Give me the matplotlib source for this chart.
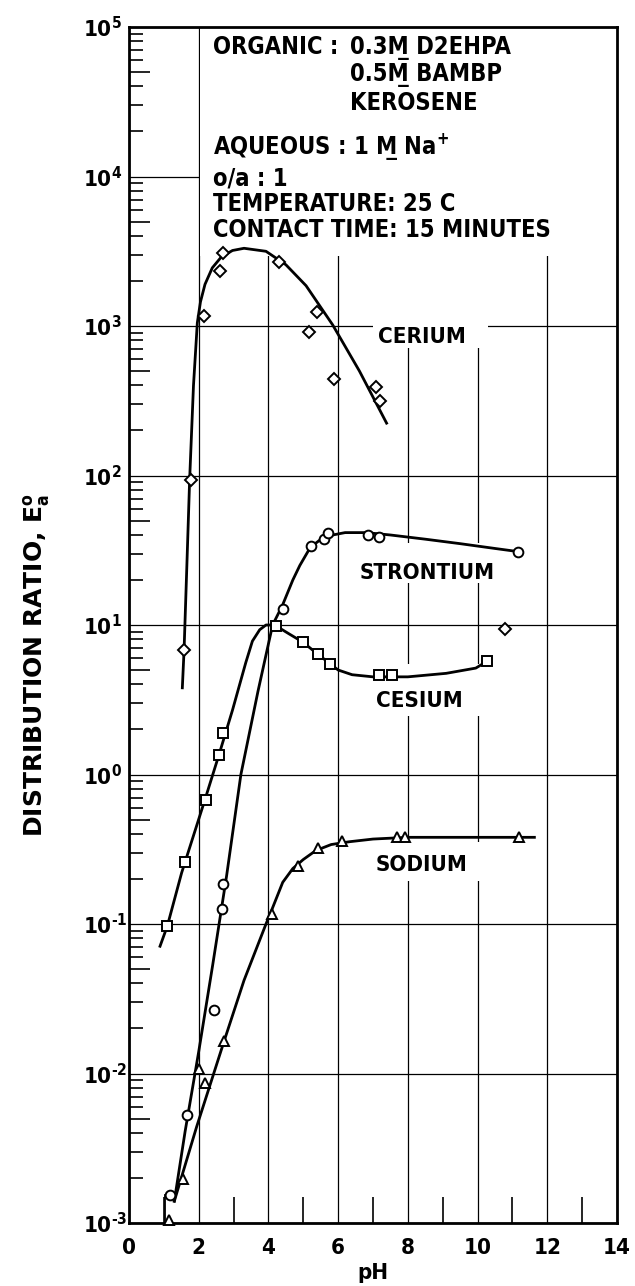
import matplotlib
matplotlib.use("Agg")
import matplotlib.pyplot as plt
from matplotlib.patches import Rectangle
from matplotlib.ticker import NullLocator, FixedLocator
import numpy as np

plt.rcParams['font.family'] = ['DejaVu Sans']
plt.rcParams['font.weight'] = 'bold'
plt.rcParams['font.stretch'] = 'condensed'
plt.rcParams['mathtext.fontset'] = 'custom'
plt.rcParams['mathtext.rm'] = 'DejaVu Sans:bold'
plt.rcParams['mathtext.it'] = 'DejaVu Sans:bold'
plt.rcParams['mathtext.bf'] = 'DejaVu Sans:bold'
plt.rcParams['mathtext.default'] = 'rm'

# ---------------- data ----------------
# cerium (diamonds)
ce_ph = [1.58, 1.77, 2.14, 2.60, 2.69, 4.31, 5.17, 5.40, 5.89, 7.10, 7.21, 10.79]
ce_d = [6.8, 94, 1160, 2340, 3100, 2680, 910, 1240, 445, 390, 316, 9.4]
ce_curve_ph = [1.53, 1.58, 1.66, 1.74, 1.85, 1.96, 2.05, 2.18, 2.39, 2.65, 2.97,
               3.30, 3.93, 4.50, 5.08, 5.84, 6.61, 7.39]
ce_curve_d = [3.8, 6.8, 25, 94, 400, 1050, 1450, 1900, 2450, 2900, 3200,
              3310, 3160, 2570, 1860, 1020, 500, 224]

# strontium (circles)
sr_ph = [1.18, 1.67, 2.44, 2.66, 2.71, 4.41, 5.21, 5.59, 5.72, 6.86, 7.18, 11.15]
sr_d = [0.00155, 0.0053, 0.0267, 0.126, 0.185, 12.7, 34, 37.4, 41.5, 40, 39, 31]
sr_curve_ph = [1.30, 1.61, 2.00, 2.40, 2.80, 3.21, 3.70, 4.12, 4.40, 4.70, 4.90,
               5.20, 5.60, 6.20, 6.80, 7.50, 8.50, 9.50, 10.50, 11.15]
sr_curve_d = [0.0014, 0.0041, 0.014, 0.053, 0.21, 1.0, 3.6, 10, 13.5, 20, 25,
              33, 39, 41.5, 41.5, 40, 37.5, 35, 32.5, 31]
sr_tail_ph = [1.02, 1.02]
sr_tail_d = [0.001, 0.00155]

# cesium (squares)
cs_ph = [1.10, 1.62, 2.21, 2.59, 2.71, 4.21, 4.98, 5.41, 5.77, 7.18, 7.54, 10.26]
cs_d = [0.097, 0.26, 0.68, 1.36, 1.9, 9.85, 7.7, 6.4, 5.5, 4.6, 4.6, 5.7]
cs_curve_ph = [0.89, 1.10, 1.51, 2.18, 2.60, 2.97, 3.35, 3.54, 3.75, 3.93, 4.10,
               4.30, 4.60, 4.98, 5.41, 5.77, 6.00, 6.40, 7.00, 7.50, 8.00, 9.10,
               9.95, 10.26]
cs_curve_d = [0.071, 0.097, 0.22, 0.68, 1.4, 2.7, 5.6, 7.8, 9.3, 10.0, 10.0,
              9.6, 8.7, 7.7, 6.4, 5.5, 5.0, 4.65, 4.5, 4.5, 4.5, 4.75,
              5.15, 5.7]

# sodium (triangles)
na_ph = [1.14, 1.56, 2.02, 2.18, 2.73, 4.09, 4.86, 5.43, 6.12, 7.68, 7.92, 11.2]
na_d = [0.00104, 0.00197, 0.0108, 0.0087, 0.0164, 0.116, 0.246, 0.32, 0.36,
        0.38, 0.38, 0.38]
na_curve_ph = [1.30, 1.94, 2.73, 3.30, 3.93, 4.10, 4.41, 4.70, 5.00, 5.36, 5.80,
               6.32, 7.00, 8.00, 9.50, 11.63]
na_curve_d = [0.0014, 0.0044, 0.0165, 0.042, 0.1, 0.125, 0.19, 0.235, 0.27, 0.31,
              0.34, 0.355, 0.37, 0.38, 0.38, 0.38]

decades = list(range(-3, 6))
x_major = list(range(0, 15, 2))
x_minor = list(range(1, 14, 2))

conditions = [
    (2.41, 10**4.822, "ORGANIC :"),
    (6.35, 10**4.822, "0.3M\u0332 D2EHPA"),
    (6.35, 10**4.637, "0.5M\u0332 BAMBP"),
    (6.35, 10**4.442, "KEROSENE"),
    (2.41, 10**4.149, "AQUEOUS : 1 M\u0332 Na$^{+}$"),
    (2.41, 10**3.943, "o/a : 1"),
    (2.41, 10**3.769, "TEMPERATURE: 25 C"),
    (2.41, 10**3.595, "CONTACT TIME: 15 MINUTES"),
]
labels = [("CERIUM", 8.4, 10**2.887), ("STRONTIUM", 8.55, 10**1.307),
          ("CESIUM", 8.32, 10**0.451), ("SODIUM", 8.4, 10**-0.645)]

# ---------------- figure ----------------
fig = plt.figure(figsize=(6.35, 12.86), dpi=100)
ax = fig.add_axes([129/635, 63/1286, 488/635, 1196/1286])
ax.set_yscale('log')
ax.set_xlim(0, 14)
ax.set_ylim(1e-3, 1e5)
ax.set_axisbelow(True)

ax.xaxis.set_major_locator(FixedLocator(x_major))
ax.xaxis.set_minor_locator(FixedLocator(x_minor))
ax.set_xticklabels([str(v) for v in x_major])
ax.yaxis.set_major_locator(FixedLocator([10.0**k for k in decades]))
ax.set_yticklabels(["$10^{%s}$" % str(k).replace('-', '\u2010') for k in decades])
subs = [m * 10.0**k for k in decades[:-1] for m in (2, 3, 4, 6, 7, 8, 9)]
ax.yaxis.set_minor_locator(FixedLocator(subs))

ax.grid(True, which='major', color='black', lw=0.9)
ax.tick_params(axis='y', which='major', length=0, pad=33, labelsize=16)
for t in ax.get_yticklabels():
    t.set_horizontalalignment('left')
ax.tick_params(axis='y', which='minor', direction='in', length=10, width=1.2)
ax.tick_params(axis='x', which='major', length=0, pad=11, labelsize=16)
ax.tick_params(axis='x', which='minor', direction='in', length=19, width=1.2)
for s in ax.spines.values():
    s.set_linewidth(2)

# longer ticks at the 5's
sec = ax.secondary_yaxis('left')
sec.yaxis.set_major_locator(FixedLocator([5 * 10.0**k for k in decades[:-1]]))
sec.yaxis.set_minor_locator(NullLocator())
sec.tick_params(direction='in', length=15, width=1.2, labelleft=False)
sec.spines['left'].set_visible(False)

# white areas where the grid is left out
masks = [(2.05, 14, 10**3.47, 1e5), (7.0, 10.3, 10**2.85, 10**3.47),
         (6.9, 10.6, 10**1.28, 10**1.55), (7.0, 10.3, 10**0.39, 10**0.74),
         (7.0, 10.3, 10**-0.71, 10**-0.45)]
for x0, x1, y0, y1 in masks:
    ax.add_patch(Rectangle((x0, y0), x1 - x0, y1 - y0, facecolor='white',
                           edgecolor='none', zorder=1))

lw = 2.0
ax.plot(ce_curve_ph, ce_curve_d, color='black', lw=lw, zorder=2)
ax.plot(sr_curve_ph, sr_curve_d, color='black', lw=lw, zorder=2)
ax.plot(sr_tail_ph, sr_tail_d, color='black', lw=1.3, zorder=2, clip_on=False)
ax.plot(cs_curve_ph, cs_curve_d, color='black', lw=lw, zorder=2)
ax.plot(na_curve_ph, na_curve_d, color='black', lw=lw, zorder=2)

mk = dict(linestyle='none', markerfacecolor='white', markeredgecolor='black',
          markeredgewidth=1.4, zorder=3, clip_on=False)
ax.plot(ce_ph, ce_d, marker='D', ms=6.5, **mk)
ax.plot(sr_ph, sr_d, marker='o', ms=7, **mk)
ax.plot(cs_ph, cs_d, marker='s', ms=6.5, **mk)
ax.plot(na_ph, na_d, marker='^', ms=7, **mk)

for x, y, s in conditions:
    ax.text(x, y, s, fontsize=17, fontweight='bold', ha='left', va='baseline', zorder=4)
for s, x, y in labels:
    ax.text(x, y, s, fontsize=16, fontweight='bold', ha='center', va='baseline', zorder=4)

ax.set_ylabel("DISTRIBUTION RATIO, E$_{a}^{o}$", fontsize=18, fontweight='bold',
              fontstretch='normal')
ax.yaxis.set_label_coords(-0.19, 0.467)
ax.yaxis.label.set_verticalalignment('center')
ax.set_xlabel("pH", fontsize=16, fontweight='bold')
ax.xaxis.set_label_coords(0.5, -0.042)
ax.xaxis.label.set_verticalalignment('center')

fig.savefig("out.png", dpi=100)
